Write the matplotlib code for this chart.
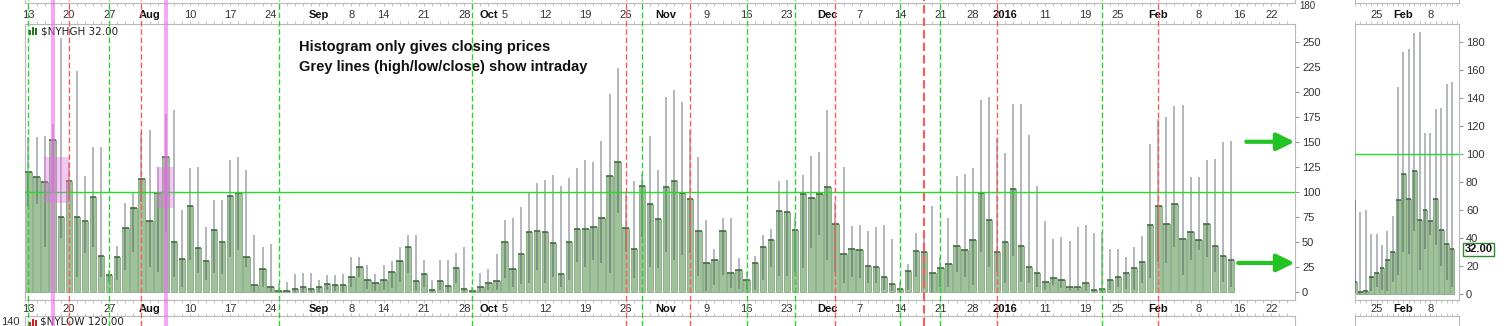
import numpy as np
import matplotlib.pyplot as plt
import matplotlib.transforms as mtransforms
from matplotlib.patches import Rectangle

W, H = 1506, 326

# daily $NYHGH values, one per trading day from 13 Jul 2015 to 12 Feb 2016
close = [120, 115, 110, 152, 75, 111, 75, 71, 95, 36,
         17, 35, 64, 84, 113, 71, 99, 135, 50, 33,
         86, 44, 31, 62, 50, 96, 99, 35, 7, 23,
         5, 0.5, 0.5, 3.3, 4.7, 3.3, 4.7, 8, 6.7, 6.7,
         14.7, 24.7, 12, 8.7, 12, 20, 31, 45, 11, 18,
         2, 11, 6, 24, 3.3, 1.3, 4.7, 8.7, 11, 50,
         23, 38, 60, 61, 60, 49, 18, 50, 63, 63,
         65, 74, 116, 130, 64, 43, 106, 88, 73, 105,
         111, 99, 93, 61, 29, 32, 61, 19, 22, 12,
         29, 45, 52, 81, 80, 62, 98, 94, 98, 105,
         68, 38, 43, 42, 26, 25, 15, 8, 3.3, 21,
         41, 40, 19, 24, 28, 46, 42, 52, 99, 72,
         40, 50, 103, 46, 25, 19, 10, 14, 12, 5.3,
         5.3, 8.7, 1.5, 2.5, 12, 15.3, 18.7, 24.3, 30, 67,
         86, 68, 88, 53, 60, 52, 68, 46, 36, 32]
high = [155, 155, 156, 168, 254, 130, 221, 116, 145, 145,
        22, 46, 89, 99, 160, 162, 125, 178, 182, 82,
        124, 125, 65, 92, 92, 132, 135, 122, 57, 45,
        48, 8, 10, 18, 19, 19, 12, 17, 17, 18,
        35, 35, 27, 18, 27, 31, 45, 57, 57, 32,
        12, 32, 32, 39, 45, 5, 19, 23, 38, 72,
        74, 85, 100, 109, 112, 117, 106, 114, 124, 132,
        130, 151, 198, 224, 100, 111, 118, 156, 122, 195,
        202, 190, 162, 135, 72, 43, 74, 74, 34, 20,
        36, 57, 63, 111, 112, 75, 117, 136, 140, 182,
        90, 125, 66, 67, 61, 65, 67, 53, 10, 28,
        59, 60, 86, 35, 74, 116, 118, 124, 192, 195,
        154, 139, 188, 188, 157, 106, 71, 53, 55, 51,
        65, 67, 59, 60, 43, 43, 35, 45, 56, 148,
        173, 175, 186, 187, 115, 115, 132, 133, 150, 151]
low = [85, 88, 45, 100, 54, 92, 15, 39, 45, 15,
       10, 12, 22, 40, 90, 25, 20, 60, 15, 5,
       32, 19, 12, 19, 18, 35, 42, 25, 0, 5,
       0, 0, 0, 0, 0, 0, 0, 2, 1, 0,
       5, 15, 3, 1, 2, 4, 10, 19, 1, 5,
       0, 2, 0, 9, 0, 0, 0, 2, 2, 14,
       5, 8, 9, 22, 9, 15, 5, 12, 30, 25,
       32, 29, 19, 79, 40, 14, 55, 25, 24, 40,
       32, 37, 39, 16, 1, 7, 17, 4, 3, 2,
       2, 12, 25, 16, 16, 20, 24, 44, 57, 32,
       20, 9, 15, 14, 9, 9, 2, 1, 0, 2,
       15, 9, 0, 5, 5, 20, 15, 7, 40, 25,
       20, 9, 36, 10, 9, 5, 2, 7, 4, 1,
       1, 1, 0, 0, 2, 5, 3, 2, 9, 14,
       30, 29, 45, 17, 32, 42, 35, 20, 10, 5]

# date axis labels (trading day index)
tick_pos = [0, 5, 10, 15, 20, 25, 30, 36, 40, 44, 49, 54, 57, 59, 64, 69, 74,
            79, 84, 89, 94, 99, 103, 108, 113, 117, 121, 126, 131, 135, 140,
            145, 150, 154]
tick_txt = ['13', '20', '27', 'Aug', '10', '17', '24', 'Sep', '8', '14', '21',
            '28', 'Oct', '5', '12', '19', '26', 'Nov', '9', '16', '23', 'Dec',
            '7', '14', '21', '28', '2016', '11', '19', '25', 'Feb', '8', '16',
            '22']
bold_txt = ['Aug', 'Sep', 'Oct', 'Nov', 'Dec', '2016', 'Feb']
zoom_pos = [135, 140, 145]
zoom_txt = ['25', 'Feb', '8']

green_days = [0, 10, 31, 55, 76, 89, 95, 108, 113, 133]
red_days = [5, 14, 74, 82, 100, 111, 120, 140]
magenta_days = [3, 17]
# pink boxes: x0, x1, y0, y1
boxes = [(1.95, 5.0, 89, 135), (15.95, 18.05, 84, 125)]

plt.rcParams['font.family'] = ['Liberation Sans', 'DejaVu Sans']

x = np.arange(len(close))
close = np.array(close)
high = np.array(high)
low = np.array(low)


def fx(px):
    return px / W


def fy(py):
    return 1 - py / H


fig = plt.figure(figsize=(W / 100, H / 100), dpi=100)
fig.patch.set_facecolor('white')

frame_col = '#b8b8b8'
bar_face = '#9fc29b'
bar_edge = '#86aa82'
XL = (-0.43, 156.94)


def draw_bars(a, width):
    a.bar(x, close, width=width, color=bar_face, edgecolor=bar_edge, lw=0.6, zorder=2)
    a.vlines(x, low, high, color='#3c4650', alpha=0.45, lw=1.2, zorder=3)
    a.hlines(close, x - width / 2, x + width / 2, color='#4a6a47', lw=1.2, zorder=4)
    a.axhline(100, color='#22dd22', lw=1, zorder=5)
    for s in a.spines.values():
        s.set_color(frame_col)
    a.yaxis.tick_right()
    a.tick_params(axis='y', length=3, color='#999999', labelsize=8,
                  labelcolor='#333333', pad=2)
    a.set_xticks([])
    a.tick_params(axis='x', which='minor', top=True, bottom=True, length=2,
                  color='#bbbbbb', direction='out')


def strips(left, right, xlim, minor):
    w = (right - left) / W
    prev = fig.add_axes([fx(left), fy(3), w, 0.2])
    nxt = fig.add_axes([fx(left), fy(316) - 0.2, w, 0.2])
    for a, side in [(prev, 'bottom'), (nxt, 'top')]:
        a.set_xlim(*xlim)
        a.set_ylim(0, 1)
        a.set_yticks([])
        a.set_xticks([])
        a.set_xticks(minor, minor=True)
        a.tick_params(axis='x', which='minor', length=2, color='#bbbbbb',
                      direction='out', bottom=(side == 'bottom'),
                      top=(side == 'top'))
        for s in a.spines.values():
            s.set_color(frame_col)
    return prev, nxt


# main panel
ax = fig.add_axes([fx(25), fy(300), (1295 - 25) / W, 276 / H])
draw_bars(ax, 0.8)
ax.set_xlim(*XL)
ax.set_ylim(-8.0, 267.6)
ax.set_yticks(range(0, 251, 25))
ax.set_xticks(np.arange(0, 157), minor=True)

for x0, x1, y0, y1 in boxes:
    ax.add_patch(Rectangle((x0, y0), x1 - x0, y1 - y0, facecolor='#e070e0',
                           alpha=0.38, lw=0, zorder=6))

ax.text(fx(299), fy(47), 'Histogram only gives closing prices',
        transform=fig.transFigure, fontsize=10.5, fontweight='bold',
        va='center', ha='left', color='#111111')
ax.text(fx(299), fy(67), 'Grey lines (high/low/close) show intraday',
        transform=fig.transFigure, fontsize=10.5, fontweight='bold',
        va='center', ha='left', color='#111111')

ax.text(fx(41), fy(31.5), '$NYHGH 32.00', transform=fig.transFigure,
        fontsize=7.5, family='DejaVu Sans', va='center', ha='left', color='#222222')
for i, hgt in enumerate([5, 8, 7]):
    fig.add_artist(Rectangle((fx(29 + i * 3), fy(35)), 2 / W, hgt / H,
                             facecolor='#1e7a1e', lw=0))

for yv, xs in [(150, 150.9), (29, 149.9)]:
    ax.annotate('', xy=(156.9, yv), xytext=(xs, yv),
                arrowprops=dict(arrowstyle='-|>,head_length=0.45,head_width=0.22',
                                color='#22c322', lw=3, mutation_scale=24,
                                shrinkA=0, shrinkB=0),
                annotation_clip=False, zorder=8)

strips(25, 1295, XL, np.arange(0, 157))

trans = mtransforms.blended_transform_factory(ax.transData, fig.transFigure)
for p, t in zip(tick_pos, tick_txt):
    b = t in bold_txt
    for yy in (15, 309):
        ax.text(p, fy(yy), t, transform=trans, ha='center', va='center',
                fontsize=8, fontweight='bold' if b else 'normal',
                color='#111111' if b else '#333333', clip_on=False)

# remnants of the neighbouring panels
fig.text(fx(1299), fy(6), '180', fontsize=7, color='#333333', va='center', ha='left')
fig.text(fx(1), fy(322), '140', fontsize=8, color='#333333', va='center', ha='left')
for i, hgt in enumerate([5, 8, 7]):
    fig.add_artist(Rectangle((fx(29 + i * 3), fy(327)), 2 / W, hgt / H,
                             facecolor='#cc2222', lw=0))
fig.text(fx(40), fy(322), '$NYLOW 120.00', fontsize=7.5, family='DejaVu Sans',
         color='#222222', va='center', ha='left')

# vertical event lines across the whole figure height
ov = fig.add_axes([fx(25), 0, (1295 - 25) / W, 1], zorder=10)
ov.set_xlim(*XL)
ov.set_ylim(0, 1)
ov.axis('off')
ov.patch.set_alpha(0)
for d in green_days:
    ov.axvline(d, color='#33cc33', lw=1, ls=(0, (4, 2)))
for d in red_days:
    ov.axvline(d, color='#ff5a5a', lw=1.5 if d == 111 else 1, ls=(0, (4, 2)))
for d in magenta_days:
    ov.axvline(d, color='#ee70ee', lw=3, alpha=0.6)

# zoomed panel on the right
XL2 = (131.3, 150.3)
ax2 = fig.add_axes([fx(1355), fy(300), 104 / W, 276 / H])
draw_bars(ax2, 0.9)
ax2.set_xlim(*XL2)
ax2.set_ylim(-4.06, 192.7)
ax2.set_yticks(range(0, 181, 20))
ax2.set_xticks(np.arange(131, 151), minor=True)
strips(1355, 1459, XL2, np.arange(131, 151))
trans2 = mtransforms.blended_transform_factory(ax2.transData, fig.transFigure)
for p, t in zip(zoom_pos, zoom_txt):
    b = t in bold_txt
    for yy in (15, 309):
        ax2.text(p, fy(yy), t, transform=trans2, ha='center', va='center',
                 fontsize=8, fontweight='bold' if b else 'normal',
                 color='#111111' if b else '#333333', clip_on=False)
ax2.annotate('32.00', xy=(1.0, 32), xycoords=('axes fraction', 'data'),
             xytext=(4, 0), textcoords='offset points', va='center', ha='left',
             fontsize=8, fontweight='bold', color='#111111',
             bbox=dict(boxstyle='square,pad=0.15', fc='white', ec='#2a8a2a', lw=1),
             annotation_clip=False)

fig.savefig('out.png', dpi=100)
